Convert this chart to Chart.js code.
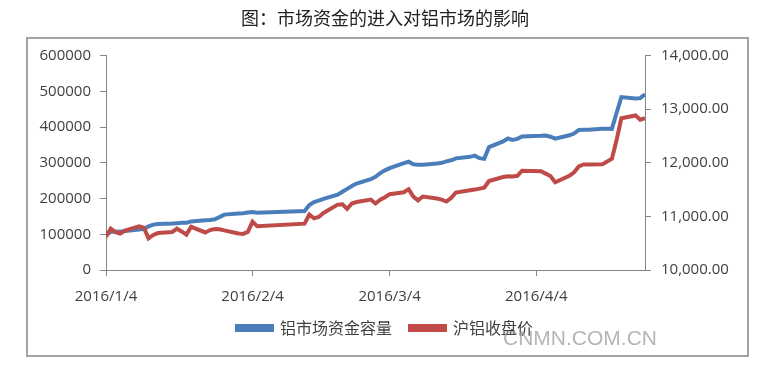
<!DOCTYPE html>
<html>
<head>
<meta charset="utf-8">
<script src="https://cdn.jsdelivr.net/npm/chart.js@4.4.1/dist/chart.umd.min.js"></script>
<style>
html,body{margin:0;padding:0;background:#fff;}
#wrap{width:770px;height:372px;position:relative;}
</style>
</head>
<body>
<div id="wrap"><canvas id="c" width="770" height="372"></canvas></div>
<script>
// ---- data ----
const dates = [
 '2016/1/4','2016/1/5','2016/1/6','2016/1/7','2016/1/8',
 '2016/1/11','2016/1/12','2016/1/13','2016/1/14','2016/1/15',
 '2016/1/18','2016/1/19','2016/1/20','2016/1/21','2016/1/22',
 '2016/1/25','2016/1/26','2016/1/27','2016/1/28','2016/1/29',
 '2016/2/1','2016/2/2','2016/2/3','2016/2/4','2016/2/5',
 '2016/2/15','2016/2/16','2016/2/17','2016/2/18','2016/2/19',
 '2016/2/22','2016/2/23','2016/2/24','2016/2/25','2016/2/26',
 '2016/2/29','2016/3/1','2016/3/2','2016/3/3','2016/3/4',
 '2016/3/7','2016/3/8','2016/3/9','2016/3/10','2016/3/11',
 '2016/3/14','2016/3/15','2016/3/16','2016/3/17','2016/3/18',
 '2016/3/21','2016/3/22','2016/3/23','2016/3/24','2016/3/25',
 '2016/3/28','2016/3/29','2016/3/30','2016/3/31','2016/4/1',
 '2016/4/5','2016/4/6','2016/4/7','2016/4/8',
 '2016/4/11','2016/4/12','2016/4/13','2016/4/14','2016/4/15',
 '2016/4/18','2016/4/19','2016/4/20','2016/4/21','2016/4/22',
 '2016/4/25','2016/4/26','2016/4/27'
];
// 铝市场资金容量 (left axis)
const fundCapacity = [
 98000,107000,108000,107000,109000,
 113000,115000,122000,127000,129000,
 130000,131000,132000,132000,136000,
 139000,140000,142000,148000,155000,
 158000,159000,161000,162500,160000,
 165000,182000,190000,194000,199000,
 211000,219000,227000,235000,242000,
 254000,261000,271000,279000,285000,
 299000,303000,296000,294500,294500,
 298000,300000,304000,307000,312500,
 316700,320000,313000,311000,343800,
 360000,368000,364000,367000,373700,
 375500,376500,373000,367600,
 377000,382000,392000,392500,392500,
 395000,395500,395000,440000,484000,
 480000,481000,492000
];
// 沪铝收盘价 (right axis)
const closePrice = [
 10620,10770,10705,10680,10735,
 10815,10790,10590,10655,10690,
 10710,10770,10720,10660,10805,
 10700,10745,10765,10760,10740,
 10680,10673,10710,10903,10815,
 10865,11035,10966,10990,11065,
 11220,11225,11140,11240,11268,
 11315,11240,11310,11358,11415,
 11450,11508,11370,11300,11371,
 11333,11312,11278,11345,11445,
 11486,11500,11518,11536,11660,
 11735,11750,11745,11757,11853,
 11844,11798,11754,11636,
 11757,11823,11931,11968,11968,
 11975,12025,12078,12430,12830,
 12884,12804,12835
];
const xTickLabels = ['2016/1/4','2016/2/4','2016/3/4','2016/4/4'];
const seriesNames = ['铝市场资金容量','沪铝收盘价'];
const titleText = '图：市场资金的进入对铝市场的影响';
const watermarkText = 'CNMN.COM.CN';

// ---- helpers ----
function dayOf(s){
  const p = s.split('/').map(Number);
  return Math.round((Date.UTC(p[0],p[1]-1,p[2]) - Date.UTC(2016,0,4))/86400000);
}
const tickLabelByDay = {};
xTickLabels.forEach(l => { tickLabelByDay[dayOf(l)] = l; });

const AXIS = '#868686';
const TXT = '#404040';
const tickFont = {family:'"Open Sans", "DejaVu Sans", sans-serif', size:15};

const framePlugin = {
  id:'frame',
  beforeDraw(chart){
    const ctx = chart.ctx;
    ctx.save();
    ctx.fillStyle = '#ffffff';
    ctx.fillRect(0,0,chart.width,chart.height);
    ctx.restore();
  },
  afterDraw(chart){
    const ctx = chart.ctx;
    ctx.save();
    ctx.strokeStyle = '#a3a3a3';
    ctx.lineWidth = 2;
    ctx.strokeRect(27, 38, 721, 318);
    ctx.font = '21px "Liberation Sans", Arial, sans-serif';
    ctx.fillStyle = 'rgba(150,150,150,0.7)';
    ctx.textBaseline = 'alphabetic';
    ctx.textAlign = 'left';
    ctx.fillText(watermarkText, 503, 345);
    ctx.restore();
  }
};

new Chart(document.getElementById('c'), {
  type:'line',
  data:{
    datasets:[
      {
        label: seriesNames[0],
        data: dates.map((d,i)=>({x:dayOf(d), y:fundCapacity[i]})),
        borderColor:'#4a7ebb', backgroundColor:'#4a7ebb',
        borderWidth:4, pointRadius:0, tension:0, yAxisID:'yL', order:1
      },
      {
        label: seriesNames[1],
        data: dates.map((d,i)=>({x:dayOf(d), y:closePrice[i]})),
        borderColor:'#be4b48', backgroundColor:'#be4b48',
        borderWidth:4, pointRadius:0, tension:0, yAxisID:'yR', order:0
      }
    ]
  },
  options:{
    responsive:false,
    animation:false,
    devicePixelRatio:1,
    layout:{padding:{left:0,right:0,top:0,bottom:26}},
    plugins:{
      title:{
        display:true, text:titleText, color:'#222',
        font:{family:'"Noto Sans CJK SC", sans-serif', size:18, weight:'normal'},
        padding:{top:7, bottom:27}
      },
      legend:{
        display:true, position:'bottom',
        labels:{
          boxWidth:35, boxHeight:4, padding:18, color:TXT,
          font:{family:'"Noto Sans CJK SC", sans-serif', size:16},
          sort:(a,b)=>a.datasetIndex-b.datasetIndex
        }
      },
      tooltip:{enabled:false}
    },
    scales:{
      x:{
        type:'linear',
        min: dayOf(dates[0]), max: dayOf(dates[dates.length-1]),
        afterBuildTicks(s){ s.ticks = xTickLabels.map(l=>({value:dayOf(l)})); },
        afterFit(s){ s.height = 32; },
        ticks:{ callback:(v)=>tickLabelByDay[v] || '', color:TXT, font:tickFont, padding:12, maxRotation:0, autoSkip:false },
        grid:{ drawOnChartArea:false, drawTicks:true, tickLength:6, color:AXIS },
        border:{ display:true, color:AXIS, width:1 }
      },
      yL:{
        type:'linear', position:'left',
        min:0, max:600000,
        afterFit(s){ s.width = 106; },
        ticks:{ stepSize:100000, color:TXT, font:tickFont, padding:9, callback:(v)=>String(v) },
        grid:{ drawOnChartArea:false, drawTicks:true, tickLength:6, color:AXIS },
        border:{ display:true, color:AXIS, width:1 }
      },
      yR:{
        type:'linear', position:'right',
        min:10000, max:14000,
        afterFit(s){ s.width = 125; },
        ticks:{ stepSize:1000, color:TXT, font:tickFont, padding:10,
          callback:(v)=>Number(v).toLocaleString('en-US',{minimumFractionDigits:2, maximumFractionDigits:2}) },
        grid:{ drawOnChartArea:false, drawTicks:true, tickLength:6, color:AXIS },
        border:{ display:true, color:AXIS, width:1 }
      }
    }
  },
  plugins:[framePlugin]
});
</script>
</body>
</html>
